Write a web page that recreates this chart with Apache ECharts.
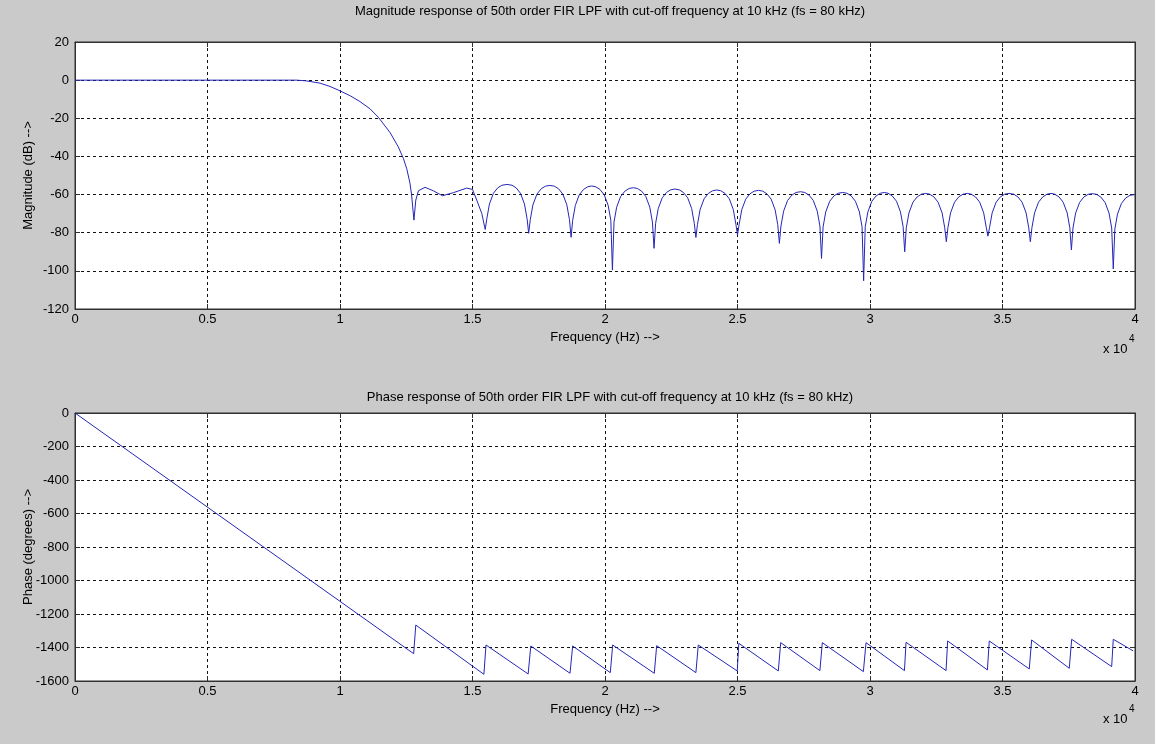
<!DOCTYPE html>
<html>
<head>
<meta charset="utf-8">
<script src="https://cdn.jsdelivr.net/npm/echarts/dist/echarts.min.js"></script>
<style>
html,body{margin:0;padding:0;background:#cacaca;}
#chart{width:1155px;height:744px;}
</style>
</head>
<body>
<div id="chart"></div>
<script>
// ---- Data (frequency in kHz) ----
const magnitudeTitle = 'Magnitude response of 50th order FIR LPF with cut-off frequency at 10 kHz (fs = 80 kHz)';
const phaseTitle = 'Phase response of 50th order FIR LPF with cut-off frequency at 10 kHz (fs = 80 kHz)';
const xAxisName = 'Frequency (Hz) -->';
const magAxisName = 'Magnitude (dB) -->';
const phaseAxisName = 'Phase (degrees) -->';

const freqRange = [0, 40];      // kHz (shown as x 10^4 Hz)
const freqStep = 5;
const magRange = [-120, 20];
const magStep = 20;
const phaseRange = [-1600, 0];
const phaseStep = 200;

// magnitude response [kHz, dB]
const magnitudeData = [
  [0,0],[2,0],[4,0],[6,0],[8,0],[8.37,0],[8.74,-0.4],[9.25,-1.6],[9.62,-3.3],[10,-5.6],
  [10.4,-8.3],[10.75,-11.2],[11.13,-15.0],[11.45,-19.5],[11.89,-27.5],[12.2,-35.0],[12.39,-41.0],[12.52,-46.5],
  [12.64,-54.0],[12.70,-60.0],[12.79,-73.4],[12.86,-62.9],[12.96,-58],[13.21,-56.2],[13.52,-58],
  [13.77,-59.9],[13.87,-60.6],[14.28,-59],[14.78,-56.6],[15.0,-57.3],[15.16,-62.9],[15.35,-69.9],
  [15.48,-78.3],
  [15.54,-72.7],[15.64,-64.9],[15.79,-59.3],[15.95,-56.5],[16.11,-55.1],[16.30,-54.7],[16.49,-55.1],[16.65,-56.5],[16.81,-59.3],[16.96,-64.9],[17.06,-72.7],
  [17.12,-80.3],
  [17.18,-73.2],[17.28,-65.4],[17.43,-59.8],[17.59,-57.0],[17.75,-55.6],[17.92,-55.2],[18.09,-55.6],[18.25,-57.0],[18.41,-59.8],[18.56,-65.4],[18.66,-73.2],
  [18.72,-82.4],
  [18.78,-73.5],[18.88,-65.7],[19.03,-60.1],[19.19,-57.3],[19.35,-55.9],[19.50,-55.5],[19.65,-55.9],[19.81,-57.3],[19.97,-60.1],[20.12,-65.7],[20.22,-73.5],
  [20.28,-99.6],
  [20.34,-74.4],[20.44,-66.6],[20.59,-61.0],[20.75,-58.2],[20.91,-56.8],[21.07,-56.4],[21.22,-56.8],[21.38,-58.2],[21.54,-61.0],[21.69,-66.6],[21.79,-74.4],
  [21.85,-88.2],
  [21.91,-75.1],[22.01,-67.3],[22.16,-61.7],[22.32,-58.9],[22.48,-57.5],[22.64,-57.1],[22.80,-57.5],[22.96,-58.9],[23.12,-61.7],[23.27,-67.3],[23.37,-75.1],
  [23.43,-82.5],
  [23.49,-75.6],[23.59,-67.8],[23.74,-62.2],[23.90,-59.4],[24.06,-58.0],[24.22,-57.6],[24.37,-58.0],[24.53,-59.4],[24.69,-62.2],[24.84,-67.8],[24.94,-75.6],
  [25.00,-81.2],
  [25.06,-75.8],[25.16,-68.0],[25.31,-62.4],[25.47,-59.6],[25.63,-58.2],[25.79,-57.8],[25.95,-58.2],[26.11,-59.6],[26.27,-62.4],[26.42,-68.0],[26.52,-75.8],
  [26.58,-85.6],
  [26.64,-76.5],[26.74,-68.7],[26.89,-63.1],[27.05,-60.3],[27.21,-58.9],[27.38,-58.5],[27.54,-58.9],[27.70,-60.3],[27.86,-63.1],[28.01,-68.7],[28.11,-76.5],
  [28.17,-93.5],
  [28.23,-76.9],[28.33,-69.1],[28.48,-63.5],[28.64,-60.7],[28.80,-59.3],[28.97,-58.9],[29.13,-59.3],[29.29,-60.7],[29.45,-63.5],[29.60,-69.1],[29.70,-76.9],
  [29.76,-105.2],
  [29.82,-76.9],[29.92,-69.1],[30.07,-63.5],[30.23,-60.7],[30.39,-59.3],[30.54,-58.9],[30.68,-59.3],[30.84,-60.7],[31.00,-63.5],[31.15,-69.1],[31.25,-76.9],
  [31.31,-90.0],
  [31.37,-77.4],[31.47,-69.6],[31.62,-64.0],[31.78,-61.2],[31.94,-59.8],[32.10,-59.4],[32.25,-59.8],[32.41,-61.2],[32.57,-64.0],[32.72,-69.6],[32.82,-77.4],
  [32.88,-84.7],
  [32.94,-77.4],[33.04,-69.6],[33.19,-64.0],[33.35,-61.2],[33.51,-59.8],[33.67,-59.4],[33.82,-59.8],[33.98,-61.2],[34.14,-64.0],[34.29,-69.6],[34.39,-77.4],
  [34.45,-81.8],
  [34.51,-77.4],[34.61,-69.6],[34.76,-64.0],[34.92,-61.2],[35.08,-59.8],[35.25,-59.4],[35.42,-59.8],[35.58,-61.2],[35.74,-64.0],[35.89,-69.6],[35.99,-77.4],
  [36.05,-84.7],
  [36.11,-77.4],[36.21,-69.6],[36.36,-64.0],[36.52,-61.2],[36.68,-59.8],[36.83,-59.4],[36.97,-59.8],[37.13,-61.2],[37.29,-64.0],[37.44,-69.6],[37.54,-77.4],
  [37.60,-89.0],
  [37.66,-77.5],[37.76,-69.7],[37.91,-64.1],[38.07,-61.3],[38.23,-59.9],[38.39,-59.5],[38.55,-59.9],[38.71,-61.3],[38.87,-64.1],[39.02,-69.7],[39.12,-77.5],
  [39.18,-99.0],
  [39.24,-78.0],[39.34,-70.2],[39.49,-64.6],[39.65,-61.8],[39.81,-60.4],[40.00,-60.0]
];

// phase response [kHz, degrees]
const phaseData = [
  [0,0],[12.78,-1437],[12.86,-1266],[15.43,-1560],[15.51,-1385],[17.10,-1558],[17.20,-1391],
  [18.68,-1554],[18.78,-1391],[20.20,-1550],[20.29,-1385],[21.86,-1554],[21.95,-1389],
  [23.43,-1550],[23.52,-1385],[24.99,-1540],[25.05,-1375],[26.54,-1540],[26.63,-1371],
  [28.11,-1538],[28.20,-1371],[29.75,-1544],[29.85,-1371],[31.30,-1538],[31.36,-1369],
  [32.87,-1538],[32.93,-1361],[34.43,-1534],[34.50,-1361],[36.01,-1528],[36.10,-1355],
  [37.52,-1524],[37.61,-1351],[39.12,-1514],[39.18,-1351],[39.93,-1420]
];

// ---- Chart ----
const FONT = '"Liberation Sans", Arial, Helvetica, sans-serif';
const LINE_COLOR = '#2626b8';
const AXIS_COLOR = '#303030';

const gridDefs = [
  {left: 75, right: 20, top: 42, height: 267},
  {left: 75, right: 20, top: 413, height: 268}
];

function mainX(gi) {
  return {
    gridIndex: gi, type: 'value', min: freqRange[0], max: freqRange[1], interval: freqStep,
    name: xAxisName, nameLocation: 'middle', nameGap: 22, nameMoveOverlap: false,
    nameTextStyle: {color: '#000', fontSize: 13, fontFamily: FONT},
    axisLine: {show: true, onZero: false, lineStyle: {color: AXIS_COLOR, width: 1}},
    axisTick: {show: true, inside: true, length: 5, lineStyle: {color: AXIS_COLOR}},
    axisLabel: {color: '#000', fontSize: 13, fontFamily: FONT, margin: 4,
      formatter: v => String(Math.round(v) / 10)},
    splitLine: {show: true, lineStyle: {color: '#111', type: [3, 3], width: 1}}
  };
}
function topX(gi) {
  return {
    gridIndex: gi, type: 'value', position: 'top', min: freqRange[0], max: freqRange[1], interval: freqStep,
    axisLine: {show: true, onZero: false, lineStyle: {color: AXIS_COLOR}},
    axisTick: {show: true, inside: true, length: 5, lineStyle: {color: AXIS_COLOR}},
    axisLabel: {show: false}, splitLine: {show: false}
  };
}
function mainY(gi, range, step, name) {
  return {
    gridIndex: gi, type: 'value', min: range[0], max: range[1], interval: step,
    name: name, nameLocation: 'middle', nameGap: 40, nameMoveOverlap: false,
    nameTextStyle: {color: '#000', fontSize: 13, fontFamily: FONT},
    axisLine: {show: true, onZero: false, lineStyle: {color: AXIS_COLOR}},
    axisTick: {show: true, inside: true, length: 5, lineStyle: {color: AXIS_COLOR}},
    axisLabel: {color: '#000', fontSize: 13, fontFamily: FONT, margin: 6,
      formatter: v => String(v)},
    splitLine: {show: true, lineStyle: {color: '#111', type: [3, 3], width: 1}}
  };
}
function rightY(gi, range, step) {
  return {
    gridIndex: gi, type: 'value', position: 'right', min: range[0], max: range[1], interval: step,
    axisLine: {show: true, onZero: false, lineStyle: {color: AXIS_COLOR}},
    axisTick: {show: true, inside: true, length: 5, lineStyle: {color: AXIS_COLOR}},
    axisLabel: {show: false}, splitLine: {show: false}
  };
}

const chart = echarts.init(document.getElementById('chart'), null, {renderer: 'canvas'});
chart.setOption({
  animation: false,
  backgroundColor: '#cacaca',
  textStyle: {fontFamily: FONT},
  title: [
    {text: magnitudeTitle, left: 605, top: 0, textAlign: 'center',
      textStyle: {color: '#000', fontSize: 13, fontWeight: 'normal', fontFamily: FONT}},
    {text: phaseTitle, left: 605, top: 386, textAlign: 'center',
      textStyle: {color: '#000', fontSize: 13, fontWeight: 'normal', fontFamily: FONT}}
  ],
  grid: gridDefs.map(g => Object.assign({show: true, backgroundColor: '#ffffff', borderColor: AXIS_COLOR, borderWidth: 1}, g)),
  xAxis: [mainX(0), topX(0), mainX(1), topX(1)],
  yAxis: [
    mainY(0, magRange, magStep, magAxisName), rightY(0, magRange, magStep),
    mainY(1, phaseRange, phaseStep, phaseAxisName), rightY(1, phaseRange, phaseStep)
  ],
  series: [
    {type: 'line', xAxisIndex: 0, yAxisIndex: 0, data: magnitudeData, showSymbol: false, symbol: 'none',
      lineStyle: {color: LINE_COLOR, width: 1}, z: 5},
    {type: 'line', xAxisIndex: 2, yAxisIndex: 2, data: phaseData, showSymbol: false, symbol: 'none',
      lineStyle: {color: LINE_COLOR, width: 1}, z: 5}
  ],
  graphic: [
    {type: 'text', left: 1103, top: 343, style: {text: 'x 10', fill: '#000', font: '13px ' + FONT}},
    {type: 'text', left: 1129, top: 334, style: {text: '4', fill: '#000', font: '10px ' + FONT}},
    {type: 'text', left: 1103, top: 713, style: {text: 'x 10', fill: '#000', font: '13px ' + FONT}},
    {type: 'text', left: 1129, top: 704, style: {text: '4', fill: '#000', font: '10px ' + FONT}}
  ]
});
</script>
</body>
</html>
